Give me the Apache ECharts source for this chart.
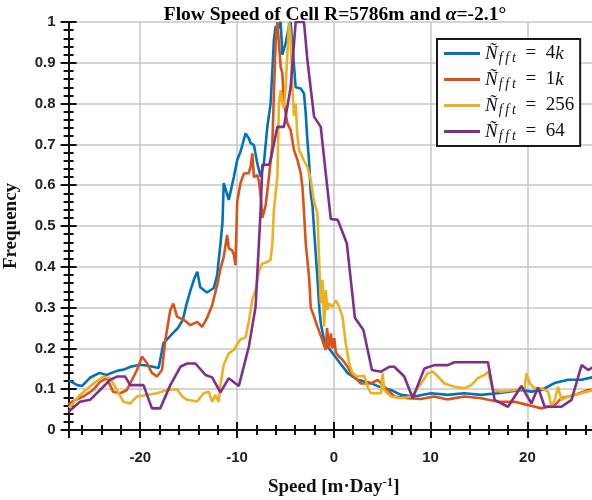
<!DOCTYPE html>
<html><head><meta charset="utf-8">
<script src="https://cdn.jsdelivr.net/npm/echarts@6/dist/echarts.min.js"></script>
<style>html,body{margin:0;padding:0;background:#fff}#c{width:592px;height:500px}</style>
</head><body><div id="c"></div>
<script>
// ---- data (speed [m/day], frequency) ----
const seriesNames = ['4k', '1k', '256', '64'];
const xTicks = [-20, -10, 0, 10, 20];
const yTicks = [0, 0.1, 0.2, 0.3, 0.4, 0.5, 0.6, 0.7, 0.8, 0.9, 1];

const blue4k = [
  [-27.4,0.12],[-27.1,0.118],[-26.5,0.11],[-26.0,0.108],[-25.2,0.128],[-24.2,0.14],[-23.5,0.135],[-22.4,0.145],
  [-21.7,0.148],[-21.0,0.155],[-20.0,0.16],[-19.4,0.158],[-18.7,0.155],[-18.1,0.152],[-17.6,0.213],[-16.6,0.238],
  [-16.1,0.25],[-15.6,0.27],[-15.2,0.31],[-14.8,0.343],[-14.4,0.372],[-14.1,0.388],[-13.8,0.35],[-13.1,0.337],
  [-12.4,0.348],[-12.05,0.38],[-11.85,0.425],[-11.7,0.458],[-11.5,0.51],[-11.37,0.605],[-10.85,0.564],[-10.33,0.62],
  [-9.98,0.662],[-9.64,0.682],[-9.12,0.727],[-8.78,0.715],[-8.6,0.703],[-8.26,0.699],[-7.91,0.654],[-7.56,0.621],
  [-7.22,0.654],[-6.87,0.743],[-6.53,0.80],[-6.35,0.88],[-6.19,0.956],[-6.01,0.99],[-5.83,0.98],[-5.49,1.0],
  [-5.32,0.92],[-4.97,0.948],[-4.63,0.99],[-4.46,1.0],[-3.94,0.84],[-3.42,0.837],[-3.08,0.825],[-2.9,0.776],
  [-2.73,0.71],[-2.56,0.66],[-2.38,0.58],[-2.2,0.55],[-1.95,0.46],[-1.7,0.376],[-1.5,0.30],[-1.35,0.262],
  [-1.0,0.22],[-0.5,0.2],[0.38,0.172],[1.42,0.14],[2.46,0.123],[3.83,0.115],[4.8,0.105],[5.91,0.098],
  [6.94,0.086],[8.29,0.082],[10.05,0.09],[11.78,0.086],[13.47,0.09],[15.23,0.086],[16.96,0.09],[19.38,0.098],
  [20.41,0.094],[21.45,0.098],[22.8,0.115],[24.22,0.123],[25.6,0.123],[26.84,0.13],[27.4,0.13]
];
const orange1k = [
  [-27.4,0.062],[-27.08,0.069],[-25.91,0.082],[-24.87,0.098],[-24.15,0.118],[-23.45,0.127],[-22.8,0.094],[-22.07,0.09],
  [-21.38,0.098],[-20.34,0.147],[-19.82,0.18],[-19.31,0.164],[-18.79,0.14],[-18.27,0.131],[-17.75,0.147],[-17.41,0.22],
  [-16.89,0.294],[-16.58,0.31],[-16.2,0.278],[-15.51,0.27],[-14.82,0.257],[-14.12,0.265],[-13.61,0.253],[-13.09,0.275],
  [-12.57,0.306],[-12.05,0.355],[-11.71,0.395],[-11.37,0.425],[-11.02,0.478],[-10.85,0.445],[-10.5,0.44],[-10.33,0.43],
  [-10.16,0.404],[-9.98,0.56],[-9.64,0.605],[-9.3,0.628],[-8.78,0.63],[-8.6,0.645],[-8.42,0.678],[-8.26,0.62],
  [-7.91,0.625],[-7.74,0.61],[-7.56,0.575],[-7.38,0.52],[-7.05,0.55],[-6.7,0.62],[-6.35,0.70],[-6.19,0.825],
  [-6.01,0.95],[-5.83,1.0],[-5.67,1.0],[-5.49,0.89],[-5.32,0.875],[-5.15,0.80],[-4.8,0.752],[-4.46,0.735],
  [-4.11,0.686],[-3.76,0.662],[-3.42,0.63],[-3.24,0.596],[-3.08,0.535],[-2.9,0.457],[-2.56,0.376],[-2.38,0.30],
  [-2.04,0.278],[-1.69,0.253],[-1.17,0.22],[-0.83,0.196],[-0.7,0.25],[-0.49,0.2],[-0.3,0.237],[-0.13,0.2],
  [0.05,0.225],[0.21,0.19],[0.55,0.18],[0.9,0.172],[1.42,0.155],[1.76,0.139],[2.1,0.131],[2.8,0.114],
  [3.83,0.114],[4.53,0.123],[5.56,0.098],[6.25,0.082],[7.64,0.078],[9.02,0.076],[10.36,0.082],[11.78,0.075],
  [13.5,0.082],[15.23,0.078],[16.96,0.069],[18.68,0.069],[20.07,0.061],[21.45,0.053],[22.83,0.061],[23.52,0.078],
  [24.9,0.086],[26.29,0.098],[27.4,0.1]
];
const yellow256 = [
  [-27.4,0.055],[-27.08,0.061],[-26.22,0.086],[-24.84,0.114],[-23.8,0.131],[-23.11,0.127],[-22.41,0.098],[-21.73,0.069],
  [-21.04,0.065],[-20.34,0.082],[-19.31,0.086],[-18.27,0.09],[-17.23,0.098],[-16.2,0.1],[-15.65,0.082],[-15.16,0.074],
  [-14.12,0.07],[-13.44,0.09],[-12.92,0.094],[-12.57,0.069],[-12.23,0.086],[-11.89,0.069],[-11.71,0.11],[-11.37,0.16],
  [-10.85,0.188],[-10.33,0.196],[-9.98,0.21],[-9.64,0.222],[-9.12,0.227],[-8.78,0.265],[-8.42,0.32],[-8.08,0.343],
  [-7.74,0.39],[-7.38,0.408],[-6.87,0.412],[-6.53,0.417],[-6.35,0.457],[-6.19,0.54],[-5.83,0.62],[-5.67,0.80],
  [-5.49,0.833],[-5.32,0.80],[-5.15,0.79],[-4.97,0.84],[-4.8,0.92],[-4.63,1.0],[-4.46,0.964],[-4.28,0.84],
  [-4.11,0.77],[-3.94,0.80],[-3.76,0.72],[-3.6,0.686],[-3.42,0.678],[-3.08,0.66],[-2.73,0.645],[-2.38,0.613],
  [-2.04,0.56],[-1.69,0.531],[-1.52,0.417],[-1.35,0.31],[-1.17,0.368],[-1.0,0.253],[-0.83,0.343],[-0.65,0.294],
  [-0.49,0.31],[-0.13,0.302],[0.21,0.318],[0.55,0.302],[0.9,0.278],[1.24,0.212],[1.59,0.163],[1.94,0.139],
  [2.46,0.131],[3.14,0.133],[3.49,0.106],[3.83,0.09],[4.87,0.09],[5.05,0.139],[5.21,0.098],[5.91,0.082],
  [6.94,0.078],[7.98,0.082],[9.02,0.114],[9.71,0.139],[10.23,0.143],[10.75,0.131],[11.43,0.114],[12.47,0.106],
  [13.5,0.102],[14.2,0.11],[14.89,0.127],[15.58,0.135],[15.93,0.143],[16.45,0.098],[17.31,0.094],[18.68,0.098],
  [19.72,0.102],[19.9,0.139],[20.24,0.114],[20.76,0.102],[21.45,0.102],[22.15,0.094],[22.49,0.057],[22.83,0.074],
  [23.18,0.106],[23.52,0.074],[24.22,0.082],[25.6,0.09],[26.84,0.098],[27.4,0.1]
];
const purple64 = [
  [-27.4,0.045],[-26.22,0.069],[-25.18,0.074],[-24.15,0.098],[-23.11,0.123],[-22.41,0.131],[-21.55,0.131],[-21.04,0.11],
  [-19.66,0.11],[-18.79,0.053],[-17.93,0.053],[-16.89,0.11],[-15.85,0.155],[-15.16,0.163],[-14.3,0.163],[-13.26,0.135],
  [-12.57,0.129],[-11.71,0.092],[-10.85,0.127],[-9.81,0.108],[-8.78,0.204],[-8.08,0.302],[-7.56,0.539],[-7.38,0.65],
  [-6.7,0.65],[-6.53,0.662],[-5.83,0.743],[-5.15,0.743],[-4.46,0.84],[-3.94,1.0],[-3.08,1.0],[-2.73,0.907],
  [-2.04,0.768],[-1.35,0.743],[-0.83,0.629],[-0.31,0.517],[0.41,0.515],[1.35,0.457],[2.18,0.275],[3.06,0.245],
  [3.94,0.147],[4.87,0.143],[5.73,0.155],[6.25,0.155],[7.28,0.131],[8.16,0.078],[9.36,0.151],[10.39,0.159],
  [11.78,0.159],[12.47,0.166],[15.93,0.166],[16.61,0.074],[18.0,0.057],[19.38,0.108],[20.41,0.065],[21.11,0.104],
  [21.79,0.057],[23.52,0.057],[24.56,0.074],[25.6,0.159],[26.29,0.147],[26.84,0.155],[27.4,0.155]
];

const colors = ['#0072BD', '#D95319', '#EDB120', '#7E2F8E'];
const datasets = [blue4k, orange1k, yellow256, purple64];

const XMIN = -27.4, XMAX = 27.4;
const chart = echarts.init(document.getElementById('c'), null, {renderer: 'canvas'});

const tickCommon = (inside) => ({
  axisTick: {show: true, inside: inside, length: 8, lineStyle: {color: '#111', width: 2}},
  minorTick: {show: true, splitNumber: 5, length: 5, lineStyle: {color: '#111', width: 2}}
});

chart.setOption({
  animation: false,
  backgroundColor: '#fff',
  title: {
    text: '{t|Flow Speed of Cell R=5786m and }{a|α}{t|=-2.1°}',
    left: 330, top: 0, textAlign: 'center',
    textStyle: {rich: {
      t: {fontFamily: 'Liberation Serif', fontWeight: 'bold', fontSize: 19.5, color: '#000'},
      a: {fontFamily: 'Liberation Serif', fontStyle: 'italic', fontSize: 19.5, color: '#000'}
    }}
  },
  grid: {left: 68.6, right: -7, top: 22, bottom: 70, containLabel: false, outerBoundsMode: 'none'},
  xAxis: [{
    type: 'value', min: XMIN, max: XMAX, splitNumber: 5,
    axisLine: {show: true, onZero: false, lineStyle: {color: '#111', width: 2}},
    ...tickCommon(false),
    splitLine: {show: true, lineStyle: {color: '#c6c6c6', width: 1.5}},
    axisLabel: {showMinLabel: false, showMaxLabel: false, margin: 20, color: '#222',
      fontFamily: 'Liberation Sans', fontWeight: 'bold', fontSize: 15},
    name: '{t|Speed [m·Day}{s|-1}{t|]}', nameLocation: 'middle', nameGap: 46,
    nameTextStyle: {rich: {
      t: {fontFamily: 'Liberation Serif', fontWeight: 'bold', fontSize: 19, color: '#111'},
      s: {fontFamily: 'Liberation Serif', fontWeight: 'bold', fontSize: 13, color: '#111', padding: [0, 0, 10, 0]}
    }}
  }, {
    type: 'value', min: XMIN, max: XMAX, splitNumber: 5, position: 'bottom', offset: 0,
    axisLine: {show: false, onZero: false}, ...tickCommon(true),
    splitLine: {show: false}, axisLabel: {show: false}
  }],
  yAxis: [{
    type: 'value', min: 0, max: 1, interval: 0.1,
    axisLine: {show: true, onZero: false, lineStyle: {color: '#111', width: 2}},
    ...tickCommon(false),
    splitLine: {show: true, lineStyle: {color: '#c6c6c6', width: 1.5}},
    axisLabel: {margin: 13, color: '#222', fontFamily: 'Liberation Sans', fontWeight: 'bold', fontSize: 15,
      formatter: v => (Math.round(v * 10) / 10).toString()},
    name: 'Frequency', nameLocation: 'middle', nameGap: 48, nameRotate: 90,
    nameTextStyle: {fontFamily: 'Liberation Serif', fontWeight: 'bold', fontSize: 19, color: '#111'}
  }, {
    type: 'value', min: 0, max: 1, interval: 0.1, position: 'left', offset: 0,
    axisLine: {show: false, onZero: false}, ...tickCommon(true),
    splitLine: {show: false}, axisLabel: {show: false}
  }],
  legend: {
    show: true, orient: 'vertical', left: 437, top: 39,
    backgroundColor: '#fff', borderColor: '#1a1a1a', borderWidth: 2,
    padding: [3, 6, 3, 7], itemGap: 3, itemWidth: 36, itemHeight: 14,
    data: seriesNames.map(n => ({name: n, icon: 'path://M0,6 L36,6 L36,9 L0,9 Z'})),
    formatter: n => {
      const m = n.match(/^(\d+)(k?)$/);
      return '{n|Ñ}{s|f\u2009f\u2009t}{e|\u2002=\u2002' + m[1] + '}' + (m[2] ? '{k|k}' : '');
    },
    textStyle: {rich: {
      n: {fontFamily: 'Liberation Serif', fontStyle: 'italic', fontSize: 19, lineHeight: 23, color: '#111'},
      s: {fontFamily: 'Liberation Serif', fontStyle: 'italic', fontSize: 14, lineHeight: 14, color: '#111', padding: [9, 0, 0, 1]},
      e: {fontFamily: 'Liberation Serif', fontSize: 19, lineHeight: 23, color: '#111'},
      k: {fontFamily: 'Liberation Serif', fontStyle: 'italic', fontSize: 19, lineHeight: 23, color: '#111'}
    }}
  },
  series: datasets.map((d, i) => ({
    name: seriesNames[i], type: 'line', data: d, xAxisIndex: 0, yAxisIndex: 0,
    symbol: 'none', showSymbol: false, clip: true,
    itemStyle: {color: colors[i]},
    lineStyle: {color: colors[i], width: 2.6}
  }))
});
</script></body></html>
